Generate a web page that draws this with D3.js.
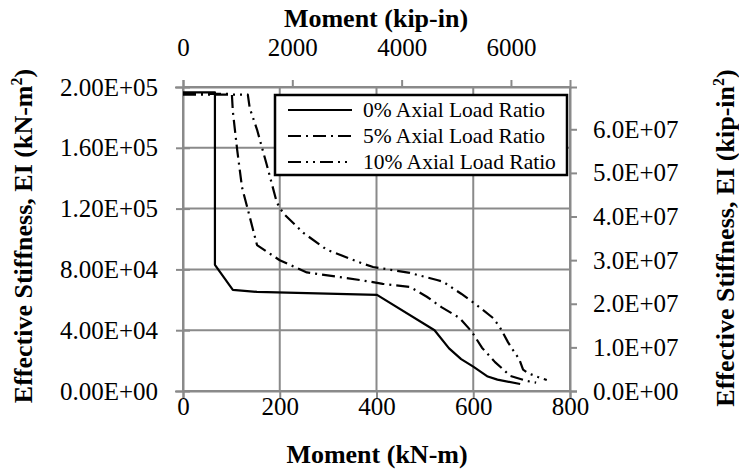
<!DOCTYPE html>
<html><head><meta charset="utf-8">
<script src="https://cdn.jsdelivr.net/npm/d3@7"></script>
<style>
html,body{margin:0;padding:0;background:#fff;}
svg{display:block;}
svg text{font-family:'Liberation Serif','Times New Roman',serif;}
</style></head>
<body>
<svg id="c" width="739" height="470"></svg>
<script>
// ---- data (Moment kN-m, Effective stiffness kN-m^2) ----
const seriesNames = ["0% Axial Load Ratio", "5% Axial Load Ratio", "10% Axial Load Ratio"];
const moment0 = [0, 66, 66, 103, 153, 401, 520, 550, 575, 600, 630, 650, 697];
const stiff0  = [196500, 196500, 83000, 66500, 65200, 63200, 40000, 28000, 21000, 16000, 9500, 7500, 4600];
const moment5 = [0, 101, 103, 112, 122, 138, 153, 200, 256, 366, 413, 469, 504, 535, 572, 597, 618, 645, 661, 676, 711, 730];
const stiff5  = [195500, 195500, 184000, 158600, 134000, 114500, 96000, 86000, 78000, 73000, 70500, 68500, 62000, 55000, 48000, 39000, 28500, 19000, 14500, 10000, 6600, 5500];
const moment10 = [0, 134, 138, 153, 173, 194, 207, 249, 297, 370, 393, 469, 525, 537, 575, 607, 641, 655, 672, 682, 695, 703, 713, 734, 752];
const stiff10  = [195000, 195000, 186000, 172000, 149000, 124000, 117000, 104000, 93000, 84000, 81600, 77700, 73000, 72000, 64000, 56600, 48000, 42000, 32000, 27000, 21000, 14000, 11800, 9200, 7200];
const bottomTicks = [0, 200, 400, 600, 800];
const leftTicks = [0, 40000, 80000, 120000, 160000, 200000];
const topTicks = [0, 2000, 4000, 6000];
const rightTicks = [0, 1e7, 2e7, 3e7, 4e7, 5e7, 6e7];
const kNm_to_kipin = 8.8507;
const kNm2_to_kipin2 = 348.455;

const svg = d3.select("#c");
const x = d3.scaleLinear().domain([0, 800]).range([183, 570]);
const y = d3.scaleLinear().domain([0, 200000]).range([391, 87]);
const xTop = d3.scaleLinear().domain([0, 800 * kNm_to_kipin]).range([183, 570]);
const yR = d3.scaleLinear().domain([0, 200000 * kNm2_to_kipin2]).range([391, 87]);

function sci(v, digits) {
  const s = v.toExponential(digits).split("e");
  const e = parseInt(s[1], 10);
  return s[0] + "E" + (e < 0 ? "-" : "+") + String(Math.abs(e)).padStart(2, "0");
}

const grey = "#8a8a8a";
// gridlines
svg.append("g").selectAll("line").data(leftTicks).join("line")
  .attr("x1", x(0)).attr("x2", x(800)).attr("y1", d => y(d)).attr("y2", d => y(d))
  .attr("stroke", grey).attr("stroke-width", 2);
svg.append("g").selectAll("line").data(bottomTicks).join("line")
  .attr("x1", d => x(d)).attr("x2", d => x(d)).attr("y1", y(0)).attr("y2", y(200000))
  .attr("stroke", grey).attr("stroke-width", 2);

const tickFont = 25;
// bottom axis
const gB = svg.append("g").attr("transform", `translate(0,${y(0)})`)
  .call(d3.axisBottom(x).tickValues(bottomTicks).tickSize(7).tickPadding(-1).tickFormat(d3.format("d")));
// left axis
const gL = svg.append("g").attr("transform", `translate(${x(0)},0)`)
  .call(d3.axisLeft(y).tickValues(leftTicks).tickSize(8).tickPadding(17).tickFormat(d => sci(d, 2)));
gL.selectAll(".tick line").attr("x2", 7).attr("x1", -7);
// top axis
const gT = svg.append("g").attr("transform", `translate(0,${y(200000)})`)
  .call(d3.axisTop(xTop).tickValues(topTicks).tickSize(7).tickPadding(24).tickFormat(d3.format("d")));
// right axis
const gR = svg.append("g").attr("transform", `translate(${x(800)},0)`)
  .call(d3.axisRight(yR).tickValues(rightTicks).tickSize(7).tickPadding(16).tickFormat(d => sci(d, 1)));

[gB, gL, gT, gR].forEach(g => {
  g.attr("font-family", null).attr("font-size", null);
  g.select(".domain").attr("stroke", grey).attr("stroke-width", 2);
  g.selectAll(".tick line").attr("stroke", grey).attr("stroke-width", 2);
  g.selectAll(".tick text").attr("fill", "#000").style("font-size", tickFont + "px");
});

// series lines
const series = [
  {m: moment0, e: stiff0, dash: null},
  {m: moment5, e: stiff5, dash: "13,5,2,5"},
  {m: moment10, e: stiff10, dash: "13,5,2,5,2,5"}
];
const line = d3.line().x(d => x(d[0])).y(d => y(d[1]));
series.forEach(s => {
  const pts = s.m.map((m, i) => [m, s.e[i]]);
  svg.append("path").attr("d", line(pts)).attr("fill", "none")
    .attr("stroke", "#000").attr("stroke-width", 2.2)
    .attr("stroke-dasharray", s.dash).attr("stroke-linejoin", "round");
});

// legend
const lg = svg.append("g");
lg.append("rect").attr("x", 275).attr("y", 95).attr("width", 292).attr("height", 80)
  .attr("fill", "#fff").attr("stroke", "#000").attr("stroke-width", 2.5);
const rowsY = [110, 136, 162];
series.forEach((s, i) => {
  lg.append("line").attr("x1", 288).attr("x2", 352).attr("y1", rowsY[i]).attr("y2", rowsY[i])
    .attr("stroke", "#000").attr("stroke-width", 2.2).attr("stroke-dasharray", s.dash);
  lg.append("text").attr("x", 363).attr("y", rowsY[i] + 7).style("font-size", "21.5px")
    .text(seriesNames[i]);
});

// titles
const titleFont = 26;
svg.append("text").attr("x", 377).attr("y", 463).attr("text-anchor", "middle")
  .style("font-size", titleFont + "px").attr("font-weight", "bold").text("Moment (kN-m)");
svg.append("text").attr("x", 376).attr("y", 27).attr("text-anchor", "middle")
  .style("font-size", titleFont + "px").attr("font-weight", "bold").text("Moment (kip-in)");

function yTitle(cx, cy, main, unit) {
  const t = svg.append("text").attr("transform", `translate(${cx},${cy}) rotate(-90)`)
    .attr("text-anchor", "middle").style("font-size", titleFont + "px").attr("font-weight", "bold");
  t.append("tspan").text(main + unit);
  t.append("tspan").attr("dy", -10).style("font-size", "16px").text("2");
  t.append("tspan").attr("dy", 10).text(")");
}
yTitle(32, 236, "Effective Stiffness, EI (", "kN-m");
yTitle(734, 238, "Effective Stiffness, EI (", "kip-in");
</script>
</body></html>
